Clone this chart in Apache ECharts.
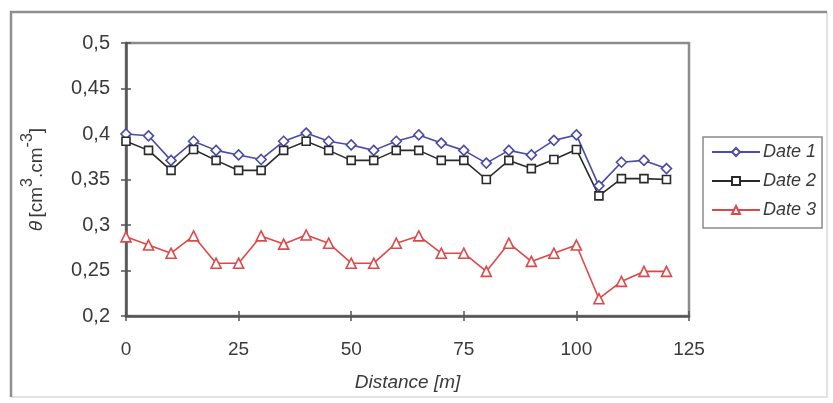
<!DOCTYPE html>
<html><head><meta charset="utf-8">
<script src="https://cdn.jsdelivr.net/npm/echarts@6/dist/echarts.min.js"></script>
<style>html,body{margin:0;padding:0;background:#fff}#c{width:833px;height:403px}</style>
</head><body><div id="c"></div>
<script>
const distances = [0,5,10,15,20,25,30,35,40,45,50,55,60,65,70,75,80,85,90,95,100,105,110,115,120];
const date1 = [0.400,0.398,0.371,0.392,0.382,0.377,0.372,0.392,0.401,0.392,0.388,0.382,0.392,0.399,0.390,0.382,0.368,0.382,0.377,0.393,0.399,0.343,0.369,0.371,0.362];
const date2 = [0.392,0.382,0.360,0.383,0.371,0.360,0.360,0.382,0.392,0.382,0.371,0.371,0.382,0.382,0.371,0.371,0.350,0.371,0.362,0.372,0.383,0.332,0.351,0.351,0.350];
const date3 = [0.287,0.278,0.269,0.288,0.258,0.258,0.288,0.279,0.289,0.280,0.258,0.258,0.280,0.288,0.269,0.269,0.249,0.280,0.260,0.269,0.278,0.219,0.238,0.249,0.249];
const seriesNames = ['Date 1','Date 2','Date 3'];
const xTicks = [0,25,50,75,100,125];
const yTicks = [0.2,0.25,0.3,0.35,0.4,0.45,0.5];

const pairs = arr => distances.map((d,i)=>[d,arr[i]]);
const chart = echarts.init(document.getElementById('c'));
const fmtY = v => (+v.toFixed(2)).toString().replace('.', ',');
const axisColor = '#555';
const txt = '#3a3a3a';
chart.setOption({
  backgroundColor: '#fff',
  animation: false,
  textStyle: {fontFamily: 'Liberation Sans, Arial, sans-serif'},
  graphic: [
    {type:'polyline', shape:{points:[[827,12],[827,397],[11,397]]}, style:{fill:'none', stroke:'#e2e2e2', lineWidth:2}, silent:true},
    {type:'polyline', shape:{points:[[11,397],[11,12],[827,12]]}, style:{fill:'none', stroke:'#8f8f8f', lineWidth:2.5}, silent:true}
  ],
  grid: {left: 126, top: 43, width: 563, height: 273, show: true, borderColor: '#8c8c8c', borderWidth: 2.5, backgroundColor: 'transparent'},
  legend: {
    orient: 'vertical', left: 703, top: 137, width: 124, height: 93,
    data: seriesNames,
    borderColor: '#8a8a8a', borderWidth: 1.5, padding: [6, 6, 9, 8], itemGap: 11,
    itemWidth: 48, itemHeight: 10,
    textStyle: {fontSize: 18, fontStyle: 'italic', color: txt, padding: [0,0,0,-2]}
  },
  xAxis: [{
    type: 'value', min: xTicks[0], max: xTicks[xTicks.length-1], interval: 25,
    axisLine: {onZero:false, lineStyle: {color: axisColor, width: 2.5}},
    axisTick: {show: true, length: 5, lineStyle: {color: axisColor, width: 1.5}},
    axisLabel: {fontSize: 19, color: txt, margin: 24},
    splitLine: {show: false},
    name: 'Distance [m]', nameLocation: 'middle', nameGap: 57,
    nameTextStyle: {fontSize: 19, fontStyle: 'italic', color: txt}
  },{
    type: 'value', min: 0, max: 125, interval: 25, position: 'bottom',
    axisLine: {show: false}, axisTick: {show: true, inside: true, length: 5, lineStyle: {color: axisColor, width: 1.5}},
    axisLabel: {show: false}, splitLine: {show: false}
  }],
  yAxis: [{
    type: 'value', min: yTicks[0], max: yTicks[yTicks.length-1], interval: 0.05,
    axisLine: {show: true, lineStyle: {color: axisColor, width: 2.5}},
    axisTick: {show: true, length: 5, lineStyle: {color: axisColor, width: 1.5}},
    axisLabel: {fontSize: 20, color: txt, margin: 16, formatter: fmtY},
    splitLine: {show: false},
    name: '{i|θ} {t|[cm}{s|3}{t|.cm}{s|-3}{t|]}', nameLocation: 'middle', nameGap: 80,
    nameTextStyle: {
      rich: {
        i: {fontSize: 19, fontStyle: 'italic', color: txt, lineHeight: 26, verticalAlign: 'bottom'},
        t: {fontSize: 19, color: txt, lineHeight: 26, verticalAlign: 'bottom'},
        s: {fontSize: 16, color: txt, lineHeight: 16, verticalAlign: 'top'}
      }
    }
  },{
    type: 'value', min: 0.2, max: 0.5, interval: 0.05, position: 'left',
    axisLine: {show: false}, axisTick: {show: true, inside: true, length: 5, lineStyle: {color: axisColor, width: 1.5}},
    axisLabel: {show: false}, splitLine: {show: false}
  }],
  series: [
    {name: seriesNames[0], type: 'line', data: pairs(date1), symbol: 'diamond', symbolSize: 10,
     lineStyle: {color: '#4a4aa8', width: 1.6}, itemStyle: {color: '#fff', borderColor: '#4a4aa8', borderWidth: 1.6}, color: '#4a4aa8'},
    {name: seriesNames[1], type: 'line', data: pairs(date2), symbol: 'rect', symbolSize: 8,
     lineStyle: {color: '#2a2a2a', width: 1.6}, itemStyle: {color: '#fff', borderColor: '#2a2a2a', borderWidth: 1.6}, color: '#2a2a2a'},
    {name: seriesNames[2], type: 'line', data: pairs(date3), symbol: 'triangle', symbolSize: 10,
     lineStyle: {color: '#e04848', width: 1.6}, itemStyle: {color: '#fff', borderColor: '#e04848', borderWidth: 1.6}, color: '#e04848'}
  ]
});
</script></body></html>
